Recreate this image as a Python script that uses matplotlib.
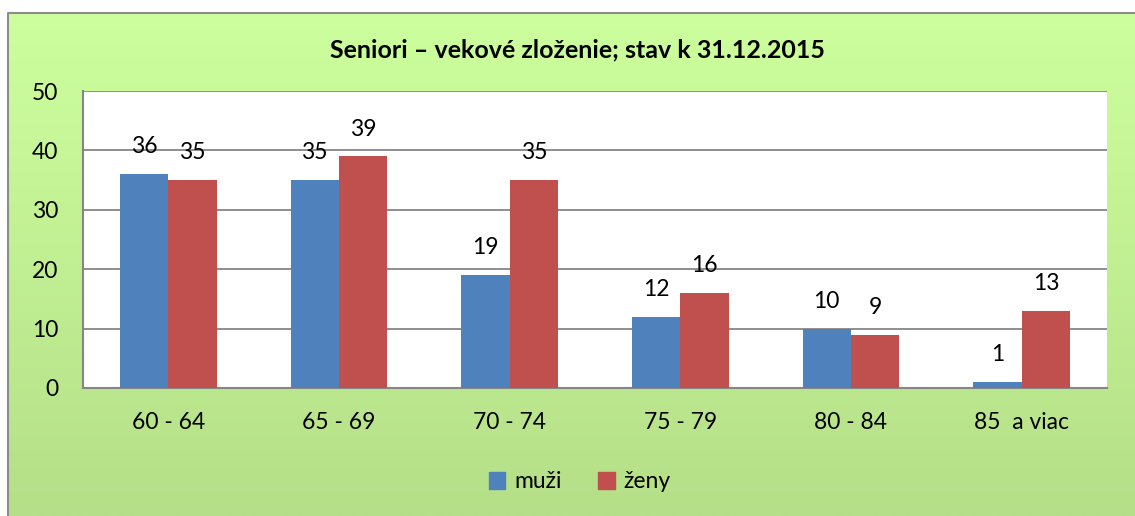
import numpy as np
import matplotlib
matplotlib.use("Agg")
import matplotlib.pyplot as plt
from matplotlib.patches import Patch

categories = ["60 - 64", "65 - 69", "70 - 74", "75 - 79", "80 - 84", "85  a viac"]
muzi = [36, 35, 19, 12, 10, 1]
zeny = [35, 39, 35, 16, 9, 13]
series_names = ["muži", "ženy"]
title = "Seniori – vekové zloženie; stav k 31.12.2015"

plt.rcParams['font.family'] = ['Lato', 'DejaVu Sans']

W, H = 1135, 516
fig = plt.figure(figsize=(W / 100, H / 100), dpi=100)
fig.patch.set_facecolor("white")

# background gradient
bg = fig.add_axes([0, 0, 1, 1], zorder=-5)
bg.set_xlim(0, W)
bg.set_ylim(H, 0)
bg.axis("off")
top = np.array([205, 255, 158]) / 255
bot = np.array([181, 223, 136]) / 255
t = np.linspace(0, 1, 256)[:, None]
grad = (top[None, :] * (1 - t) + bot[None, :] * t)[:, None, :]
bg.imshow(grad, extent=[8, W, H, 13], aspect="auto", interpolation="bilinear")
bg.plot([8, 8, W], [H, 13, 13], color="#8c8c8c", lw=1.5)

ax = fig.add_axes([83 / W, (H - 388) / H, (1107 - 83) / W, (388 - 91) / H])
ax.set_facecolor("white")
x = np.arange(len(categories))
w = 0.284
b1 = ax.bar(x - w / 2, muzi, w, color="#4F81BD", zorder=3)
b2 = ax.bar(x + w / 2, zeny, w, color="#C0504D", zorder=3)
ax.set_xlim(-0.5, len(categories) - 0.5)
ax.set_ylim(0, 50)
ax.set_yticks(range(0, 51, 10))
ax.yaxis.grid(True, color="#868686", lw=1.3, zorder=1)
for s in ["top", "right"]:
    ax.spines[s].set_visible(False)
for s in ["left", "bottom"]:
    ax.spines[s].set_color("#868686")
    ax.spines[s].set_linewidth(1.5)
ax.tick_params(axis="y", length=0, pad=18, labelsize=16.5)
ax.tick_params(axis="x", length=0, pad=17, labelsize=16.5)
ax.set_xticks(x)
ax.set_xticklabels(categories)

for bars, vals in [(b1, muzi), (b2, zeny)]:
    for r, v in zip(bars, vals):
        ax.annotate(str(v), (r.get_x() + r.get_width() / 2, v), xytext=(0, 12),
                    textcoords="offset points", ha="center", va="bottom", fontsize=16.5)

fig.text(578 / W, 1 - 50 / H, title, ha="center", va="center", fontsize=18, fontweight="bold")

handles = [Patch(color="#4F81BD"), Patch(color="#C0504D")]
fig.legend(handles, series_names, loc="center", bbox_to_anchor=(580 / W, 1 - 482 / H), ncol=2,
           frameon=False, fontsize=16.5, handlelength=0.7, handleheight=0.7,
           handletextpad=0.4, columnspacing=1.6)

fig.savefig("out.png", dpi=100)
